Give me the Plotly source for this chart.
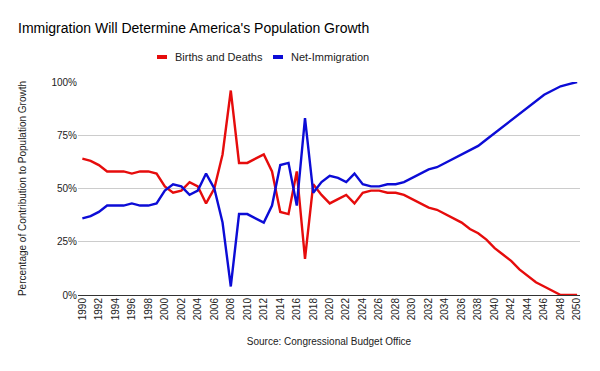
import plotly.graph_objects as go

years = list(range(1990, 2051))

births_deaths = [64, 63, 61, 58, 58, 58, 57, 58, 58, 57,
                 51, 48, 49, 53, 51, 43, 50, 66, 96, 62,
                 62, 64, 66, 58, 39, 38, 58, 17, 52, 47,
                 43, 45, 47, 43, 48, 49, 49, 48, 48, 47,
                 45, 43, 41, 40, 38, 36, 34, 31, 29, 26,
                 22, 19, 16, 12, 9, 6, 4, 2, 0, 0, 0]

net_immigration = [36, 37, 39, 42, 42, 42, 43, 42, 42, 43,
                   49, 52, 51, 47, 49, 57, 50, 34, 4, 38,
                   38, 36, 34, 42, 61, 62, 42, 83, 48, 53,
                   56, 55, 53, 57, 52, 51, 51, 52, 52, 53,
                   55, 57, 59, 60, 62, 64, 66, 68, 70, 73,
                   76, 79, 82, 85, 88, 91, 94, 96, 98, 99, 100]

tick_years = list(range(1990, 2051, 2))
y_ticks = [0, 25, 50, 75, 100]
y_tick_labels = ["0%", "25%", "50%", "75%", "100%"]

series_names = ["Births and Deaths", "Net-Immigration"]
title_text = "Immigration Will Determine America's Population Growth"
x_title = "Source: Congressional Budget Office"
y_title = "Percentage of Contribution to Population Growth"

RED = "#e60c0c"
BLUE = "#0c0cd6"
sans = "Liberation Sans, Arial, sans-serif"

W, H = 600, 371
ML, MR, MT, MB = 78, 20, 82, 76

fig = go.Figure()
fig.add_trace(go.Scatter(x=years, y=births_deaths, mode="lines", name=series_names[0],
                         line=dict(color=RED, width=2.4), showlegend=False, cliponaxis=False))
fig.add_trace(go.Scatter(x=years, y=net_immigration, mode="lines", name=series_names[1],
                         line=dict(color=BLUE, width=2.4), showlegend=False, cliponaxis=False))

# legend drawn as swatch + label in paper pixels
def px_x(p):
    return (p - ML) / (W - ML - MR)

def px_y(p):
    return (H - MB - p) / (H - MT - MB)

legend_items = [(series_names[0], RED, 157), (series_names[1], BLUE, 273)]
shapes = []
annotations = []
for nm, col, sx in legend_items:
    shapes.append(dict(type="rect", xref="paper", yref="paper",
                       x0=px_x(sx), x1=px_x(sx + 10), y0=px_y(59), y1=px_y(55),
                       fillcolor=col, line=dict(width=0)))
    annotations.append(dict(text=nm, xref="paper", yref="paper", x=px_x(sx + 16), y=px_y(57),
                            xanchor="left", yanchor="middle", showarrow=False,
                            font=dict(family=sans, size=11, color="#222")))

fig.update_layout(
    width=W, height=H,
    paper_bgcolor="white", plot_bgcolor="white",
    margin=dict(l=ML, r=MR, t=MT, b=MB, autoexpand=False),
    showlegend=False,
    title=dict(text=title_text, x=18 / W, xanchor="left", y=1 - 28 / H, yanchor="middle",
               font=dict(family=sans, size=14, color="#000")),
    shapes=shapes,
    annotations=annotations,
    xaxis=dict(range=[1989.47, 2050.35], tickmode="array", tickvals=tick_years,
               ticktext=[str(t) for t in tick_years], tickangle=-90,
               tickfont=dict(family=sans, size=10, color="#222"),
               showgrid=False, zeroline=False, showline=False, ticks="", automargin=False,
               title=dict(text=x_title, font=dict(family=sans, size=10, color="#222"), standoff=18)),
    yaxis=dict(range=[0, 100], tickmode="array", tickvals=y_ticks, ticktext=y_tick_labels,
               tickfont=dict(family=sans, size=10, color="#222"),
               showgrid=True, gridcolor="#cccccc", gridwidth=1,
               zeroline=True, zerolinecolor="#333333", zerolinewidth=1,
               showline=False, ticks="", automargin=False,
               title=dict(text=y_title, font=dict(family=sans, size=10, color="#222"), standoff=22)),
)

fig.write_html("out.html", config={"displayModeBar": False},
               post_script="document.body.style.margin='0';")
